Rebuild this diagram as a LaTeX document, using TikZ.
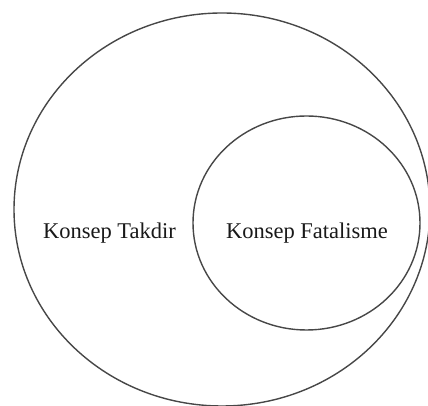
\documentclass[tikz,border=0pt]{standalone}
\usepackage{fontspec}
\setmainfont{Liberation Serif}
\usetikzlibrary{shapes.geometric}
\begin{document}
\begin{tikzpicture}[x=1pt,y=1pt,
  setring/.style={draw=black!72, line width=1.4pt, ellipse, inner sep=0pt, outer sep=0pt},
  lbl/.style={font=\fontsize{22.5}{27}\selectfont, text=black!90, inner sep=0pt, anchor=base}]
\useasboundingbox (0,0) rectangle (428,406);
\begin{scope}
\clip (0,0) rectangle (428,406);
\node[setring, minimum width=416pt, minimum height=393pt] (takdir) at (222,196.5) {};
\end{scope}
\node[setring, minimum width=227pt, minimum height=214pt] (fatal) at (306.5,183) {};
\node[lbl] (ltakdir) at (109.5,167.7) {Konsep Takdir};
\node[lbl] (lfatal) at (307,167.7) {Konsep Fatalisme};
\end{tikzpicture}
\end{document}
